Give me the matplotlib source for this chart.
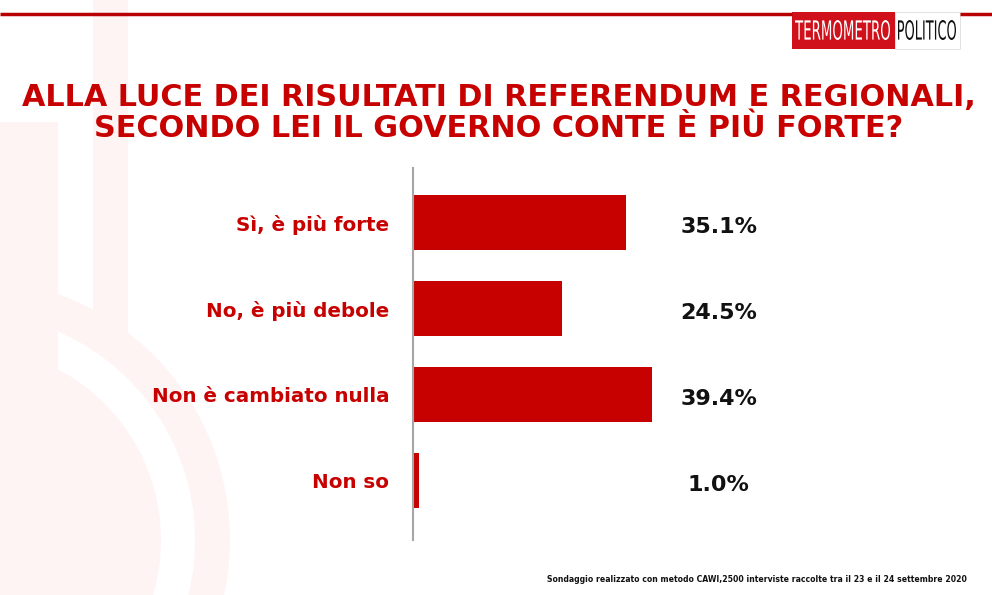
import matplotlib
matplotlib.use("Agg")
import matplotlib.pyplot as plt
from matplotlib.patches import Rectangle, Circle, Wedge, PathPatch
from matplotlib.textpath import TextPath
from matplotlib.font_manager import FontProperties
from matplotlib.transforms import Affine2D

categories = ["Sì, è più forte", "No, è più debole", "Non è cambiato nulla", "Non so"]
values = [35.1, 24.5, 39.4, 1.0]
value_labels = ["35.1%", "24.5%", "39.4%", "1.0%"]

title = "ALLA LUCE DEI RISULTATI DI REFERENDUM E REGIONALI,\nSECONDO LEI IL GOVERNO CONTE È PIÙ FORTE?"
note = "Sondaggio realizzato con metodo CAWI,2500 interviste raccolte tra il 23 e il 24 settembre 2020"

RED = "#C70000"
PINK = "#FEF4F4"
FONT = "DejaVu Sans"

W, H = 992, 595
fig = plt.figure(figsize=(W / 100, H / 100), dpi=100)

# background layer in pixel coordinates
bg = fig.add_axes([0, 0, 1, 1], zorder=0)
bg.set_xlim(0, W)
bg.set_ylim(H, 0)
bg.axis("off")

# faint thermometer watermark
bg.add_patch(Rectangle((93, -5), 35, 357, color=PINK, lw=0))
bg.add_patch(Wedge((-32, 540), 262, 0, 360, width=35, color=PINK, lw=0))
bg.add_patch(Rectangle((-5, 122), 63, 420, color=PINK, lw=0))
bg.add_patch(Circle((-32, 540), 193, color=PINK, lw=0))

# top rule and logo
bg.plot([0, 792], [13.5, 13.5], color="#B80000", lw=2.5, solid_capstyle="butt")
bg.plot([960, W], [13.5, 13.5], color="#B80000", lw=2.5, solid_capstyle="butt")
bg.add_patch(Rectangle((792, 12), 103, 37, color="#D0101A", lw=0))
bg.add_patch(Rectangle((895, 12), 65, 37, facecolor="white", edgecolor="#DDDDDD", lw=0.6))


def squeezed_text(s, x0, x1, ytop, ybot, color):
    # condensed logo lettering: stretch a text path into its box
    tp = TextPath((0, 0), s, size=10, prop=FontProperties(family=FONT))
    ext = tp.get_extents()
    sx = (x1 - x0) / ext.width
    sy = (ybot - ytop) / ext.height
    tr = Affine2D().translate(-ext.x0, -ext.y0).scale(sx, -sy).translate(x0, ybot)
    bg.add_patch(PathPatch(tr.transform_path(tp), color=color, lw=0))


squeezed_text("TERMOMETRO", 795, 890, 20, 40, "white")
squeezed_text("POLITICO", 898, 956, 20, 40, "#111111")

bg.text(499, 113, title, color=RED, fontsize=21.8, fontweight="bold", family=FONT,
        ha="center", va="center", linespacing=1.1)
bg.text(967, 579, note, color="#111111", fontsize=5.6, fontweight="bold", family=FONT,
        ha="right", va="center")

# bar chart
ax = fig.add_axes([413 / W, 55 / H, (W - 413) / W, 372 / H], zorder=1)
ax.patch.set_alpha(0)
pos = list(range(len(categories)))
ax.barh(pos, values, height=0.64, color=RED)
ax.set_xlim(0, (W - 413) / 6.07)
ax.set_ylim(3.69, -0.634)
for s in ["top", "right", "bottom"]:
    ax.spines[s].set_visible(False)
ax.spines["left"].set_color("#A6A6A6")
ax.spines["left"].set_linewidth(1.5)
ax.set_xticks([])
ax.set_yticks(pos)
ax.set_yticklabels(categories, color=RED, fontsize=14.3, fontweight="bold", family=FONT)
ax.tick_params(axis="y", length=0, pad=17)

for i, lab in enumerate(value_labels):
    ax.text(50.4, i + 0.05, lab, color="#111111", fontsize=16, fontweight="bold",
            family=FONT, ha="center", va="center")

fig.savefig("out.png", dpi=100)
